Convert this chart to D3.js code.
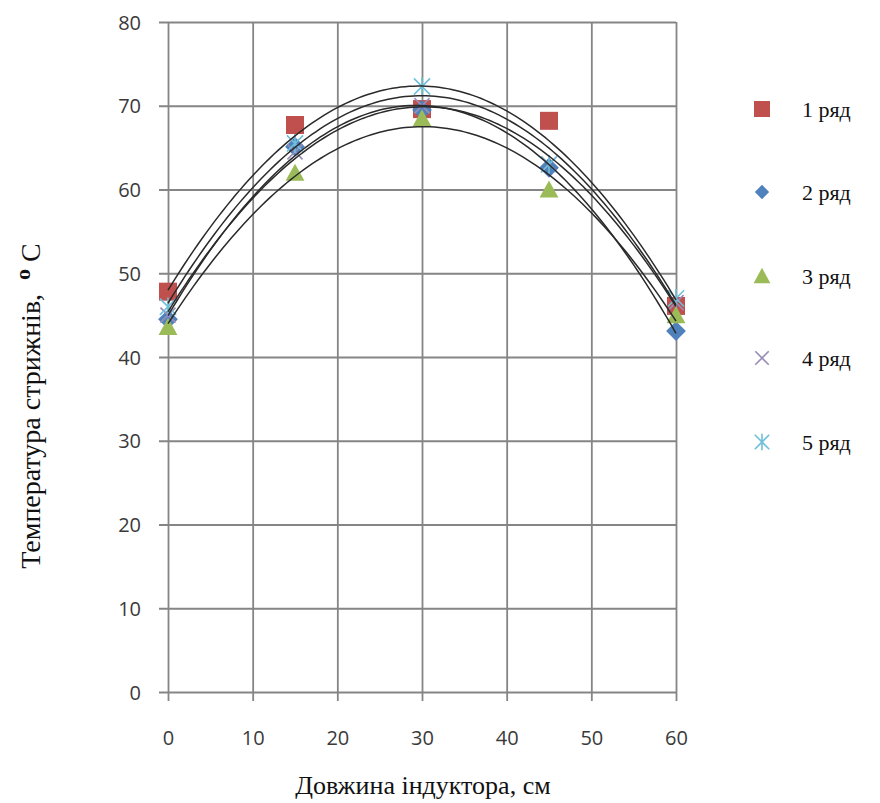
<!DOCTYPE html>
<html><head><meta charset="utf-8">
<script src="https://cdn.jsdelivr.net/npm/d3@7"></script>
<style>body{margin:0;background:#fff}</style>
</head><body>
<svg id="c" width="880" height="803"></svg>
<script>
const xValues = [0, 15, 30, 45, 60];
const series1 = [47.8, 67.7, 69.6, 68.2, 46.1];
const series2 = [44.5, 65.1, 69.5, 62.6, 43.1];
const series3 = [43.6, 62.0, 68.5, 60.0, 45.0];
const series4 = [45.0, 64.5, 70.0, 63.0, 46.5];
const series5 = [46.0, 65.5, 72.3, 63.0, 47.0];
const seriesNames = ["1 ряд", "2 ряд", "3 ряд", "4 ряд", "5 ряд"];
const xTicks = [0, 10, 20, 30, 40, 50, 60];
const yTicks = [0, 10, 20, 30, 40, 50, 60, 70, 80];
const xTitle = "Довжина індуктора, см";
const yTitle = "Температура стрижнів,  ";

const allSeries = [series1, series2, series3, series4, series5];
const colors = ["#C0504D", "#4F81BD", "#9BBB59", "#9A8DB8", "#6FC0DA"];
const shapes = ["square", "diamond", "triangle", "x", "star"];

const svg = d3.select("#c");
const L = 168, R = 676, T = 22, B = 692;
const x = d3.scaleLinear().domain([0, 60]).range([L, R]);
const y = d3.scaleLinear().domain([0, 80]).range([B, T]);

const grid = "#858585";
const tickFont = "'Open Sans', sans-serif";
// horizontal gridlines with outward ticks
const yAxis = svg.append("g").attr("transform", `translate(${L},0)`)
  .call(d3.axisLeft(y).tickValues(yTicks).tickSize(-(R - L)).tickSizeOuter(0).tickPadding(0));
yAxis.select(".domain").remove();
yAxis.selectAll(".tick line").attr("x1", -9).attr("stroke", grid).attr("stroke-width", 1.8);
yAxis.selectAll(".tick text").attr("x", -27).attr("dy", "0.35em")
  .style("font-family", tickFont).style("font-size", "20px").attr("fill", "#3a3a3a");

const xAxis = svg.append("g").attr("transform", `translate(0,${B})`)
  .call(d3.axisBottom(x).tickValues(xTicks).tickSize(-(B - T)).tickSizeOuter(0));
xAxis.select(".domain").remove();
xAxis.selectAll(".tick line").attr("y1", 9).attr("stroke", grid).attr("stroke-width", 1.8);
xAxis.selectAll(".tick text").attr("y", 46).attr("dy", "0.35em")
  .style("font-family", tickFont).style("font-size", "20px").attr("fill", "#3a3a3a");

function marker(g, shape, color, cx, cy, s) {
  if (shape === "square") {
    g.append("rect").attr("x", cx - s / 2).attr("y", cy - s / 2).attr("width", s).attr("height", s).attr("fill", color);
  } else if (shape === "diamond") {
    const r = s * 0.55;
    g.append("path").attr("d", `M${cx},${cy - r}L${cx + r},${cy}L${cx},${cy + r}L${cx - r},${cy}Z`).attr("fill", color);
  } else if (shape === "triangle") {
    const w = s * 1.05, h = s * 0.9;
    g.append("path").attr("d", `M${cx},${cy - h / 2 - 1}L${cx + w / 2},${cy + h / 2}L${cx - w / 2},${cy + h / 2}Z`).attr("fill", color);
  } else if (shape === "x") {
    const r = s * 0.42;
    g.append("path").attr("d", `M${cx - r},${cy - r}L${cx + r},${cy + r}M${cx - r},${cy + r}L${cx + r},${cy - r}`)
      .attr("stroke", color).attr("stroke-width", 1.6).attr("fill", "none");
  } else if (shape === "star") {
    const r = s * 0.45;
    g.append("path").attr("d", `M${cx - r},${cy - r}L${cx + r},${cy + r}M${cx - r},${cy + r}L${cx + r},${cy - r}M${cx},${cy - r * 1.15}L${cx},${cy + r * 1.15}`)
      .attr("stroke", color).attr("stroke-width", 1.6).attr("fill", "none");
  }
}

// markers
const mg = svg.append("g");
allSeries.forEach((s, i) => {
  s.forEach((v, j) => marker(mg, shapes[i], colors[i], x(xValues[j]), y(v), 18));
});

// polynomial (order 2) trendlines via least squares
function quadFit(xs, ys) {
  let n = xs.length, S = [0, 0, 0, 0, 0], Ty = [0, 0, 0];
  for (let k = 0; k < n; k++) {
    let p = 1;
    for (let m = 0; m < 5; m++) { S[m] += p; if (m < 3) Ty[m] += p * ys[k]; p *= xs[k]; }
  }
  const A = [[S[0], S[1], S[2], Ty[0]], [S[1], S[2], S[3], Ty[1]], [S[2], S[3], S[4], Ty[2]]];
  for (let c = 0; c < 3; c++) {
    for (let r = c + 1; r < 3; r++) {
      const f = A[r][c] / A[c][c];
      for (let k = c; k < 4; k++) A[r][k] -= f * A[c][k];
    }
  }
  const co = [0, 0, 0];
  for (let r = 2; r >= 0; r--) {
    let s = A[r][3];
    for (let k = r + 1; k < 3; k++) s -= A[r][k] * co[k];
    co[r] = s / A[r][r];
  }
  return t => co[0] + co[1] * t + co[2] * t * t;
}
const line = d3.line().x(d => x(d[0])).y(d => y(d[1]));
const lg = svg.append("g");
allSeries.forEach(s => {
  const f = quadFit(xValues, s);
  const pts = d3.range(0, 60.01, 0.5).map(t => [t, f(t)]);
  lg.append("path").attr("d", line(pts)).attr("fill", "none").attr("stroke", "#2a2a2a").attr("stroke-width", 1.5);
});

// legend
const legY = [109, 192, 276, 358, 442];
seriesNames.forEach((name, i) => {
  const g = svg.append("g");
  marker(g, shapes[i], colors[i], 762, legY[i], i === 0 ? 16 : (i === 1 ? 13 : 16));
  g.append("text").attr("x", 802).attr("y", legY[i]).attr("dy", "0.35em")
    .style("font-family", "'Liberation Serif', 'Times New Roman', serif").style("font-size", "22px")
    .attr("fill", "#111").text(name);
});

// axis titles
svg.append("text").attr("x", 423).attr("y", 785).attr("dy", "0.35em").attr("text-anchor", "middle")
  .style("font-family", "'Liberation Serif', 'Times New Roman', serif").style("font-size", "26px")
  .attr("fill", "#111").text(xTitle);

const yt = svg.append("text").attr("transform", "translate(40,406) rotate(-90)").attr("text-anchor", "middle")
  .style("font-family", "'Liberation Serif', 'Times New Roman', serif").style("font-size", "28px")
  .style("white-space", "pre").attr("fill", "#111");
yt.append("tspan").text(yTitle);
yt.append("tspan").attr("dy", -10).style("font-weight", "bold").style("font-size", "22px").text("o");
yt.append("tspan").attr("dy", 10).text(" C");
</script>
</body></html>
